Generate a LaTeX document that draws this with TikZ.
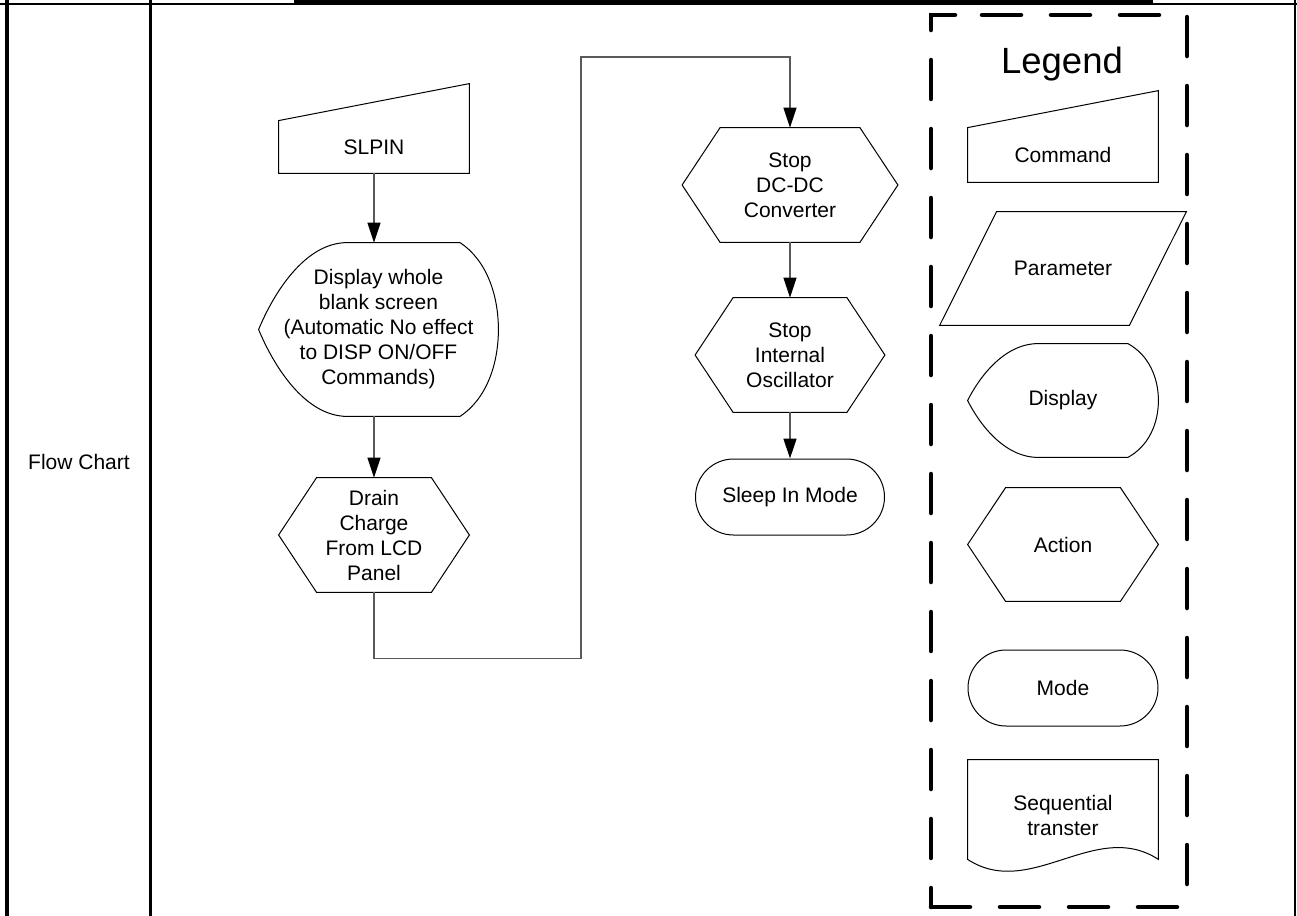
\documentclass[tikz,border=0pt]{standalone}
\usepackage{fontspec}
\setmainfont{Liberation Sans}
\usetikzlibrary{arrows.meta,calc}

\begin{document}
\begin{tikzpicture}[x=0.5pt,y=-0.5pt,
  font=\fontsize{10.5}{12.5}\selectfont,
  lbl/.style={inner sep=0pt,align=center},
  outl/.style={line width=0.5pt},
  arr/.style={draw=black!65,line width=0.7pt,-{Triangle[length=10pt,width=6.5pt,color=black]}},
  legbox/.style={line width=2.25pt,line cap=round,dash pattern=on 19.5pt off 15pt}]
\useasboundingbox (0,0) rectangle (1297,916);
% table frame
\draw[line width=2pt] (7,0)--(7,916);
\draw[line width=1.5pt] (150.5,0)--(150.5,916);
\draw[line width=1.25pt] (1295,0)--(1295,916);
\draw[line width=1pt] (0,3.7)--(1297,3.7);
\fill (294,0) rectangle (1153,4.7);
\node[lbl] (flowlbl) at (79,462) {Flow Chart};
% flow chart
\node[lbl,minimum width=95pt,minimum height=26pt] (slpin) at (374,147) {SLPIN};
\node[lbl,minimum width=119.5pt,minimum height=86.5pt] (disp) at (378.5,329.5) {Display whole\\blank screen\\(Automatic No effect\\to DISP ON/OFF\\Commands)};
\node[lbl,minimum width=95pt,minimum height=57pt] (drain) at (374,535) {Drain\\Charge\\From LCD\\Panel};
\node[lbl,minimum width=107.5pt,minimum height=57pt] (stopdc) at (790,185) {Stop\\DC-DC\\Converter};
\node[lbl,minimum width=94.5pt,minimum height=57pt] (stoposc) at (790,355) {Stop\\Internal\\Oscillator};
\node[lbl,draw,outl,rounded corners=19pt,minimum width=94.5pt,minimum height=38pt] (sleep) at (790,497) {Sleep In Mode};
% legend
\node[lbl,anchor=base,font=\fontsize{18.25}{22}\selectfont] (legtitle) at (1062,73) {Legend};
\node[lbl,minimum width=95pt,minimum height=27pt] (cmd) at (1063,155) {Command};
\node[lbl,minimum width=123pt,minimum height=56.5pt] (param) at (1063,268.5) {Parameter};
\node[lbl,minimum width=95pt,minimum height=56.5pt] (legdisp) at (1063,400.5) {Display};
\node[lbl,minimum width=95pt,minimum height=56.5pt] (act) at (1063,544.5) {Action};
\node[lbl,draw,outl,rounded corners=19pt,minimum width=95pt,minimum height=38pt] (mode) at (1063,688) {Mode};
\node[lbl,minimum width=95pt,minimum height=55pt] (seq) at (1063,815) {Sequential\\transter};
% outlines
\foreach \s in {slpin,cmd}
  \draw[outl] (\s.south west)--(\s.south east)--([yshift=18.5pt]\s.north east)--(\s.north west)--cycle;
\foreach \s in {drain,stopdc,stoposc,act}
  \draw[outl] (\s.west)--([xshift=19pt]\s.north west)--([xshift=-19pt]\s.north east)--(\s.east)
    --([xshift=-19pt]\s.south east)--([xshift=19pt]\s.south west)--cycle;
\draw[outl] (param.south west)--([xshift=-28.5pt]param.south east)--(param.north east)--([xshift=28.5pt]param.north west)--cycle;
\foreach \s in {disp,legdisp}
  \draw[outl] let \p1=(\s.north west), \p2=(\s.south east), \n1={\x2-\x1}, \n2={\y1-\y2} in
    ({\x1+0.37*\n1},\y1) -- ({\x1+0.84*\n1},\y1)
    .. controls ({\x1+0.95*\n1},{\y1-0.1*\n2}) and (\x2,{\y1-0.3*\n2}) .. (\x2,{0.5*(\y1+\y2)})
    .. controls (\x2,{\y2+0.3*\n2}) and ({\x1+0.95*\n1},{\y2+0.1*\n2}) .. ({\x1+0.84*\n1},\y2)
    -- ({\x1+0.37*\n1},\y2)
    .. controls ({\x1+0.19*\n1},\y2) and ({\x1+0.06*\n1},{\y2+0.3*\n2}) .. (\x1,{0.5*(\y1+\y2)})
    .. controls ({\x1+0.06*\n1},{\y1-0.3*\n2}) and ({\x1+0.19*\n1},\y1) .. ({\x1+0.37*\n1},\y1) -- cycle;
\draw[outl] ([yshift=5.5pt]seq.south west)--(seq.north west)--(seq.north east)--([yshift=5.5pt]seq.south east)
  .. controls ([xshift=-31.5pt,yshift=26pt]seq.south east) and ([xshift=31.5pt,yshift=-15pt]seq.south west) .. ([yshift=5.5pt]seq.south west)--cycle;
% connectors
\coordinate (jog) at (581,57);
\draw[arr] (slpin.south)--(slpin.south |- disp.north);
\draw[arr] (drain.north |- disp.south)--(drain.north);
\draw[arr] (drain.south)--++(0,66) -| (jog) -| (stopdc.north);
\draw[arr] (stopdc)--(stoposc);
\draw[arr] (stoposc)--(sleep);
% legend box
\draw[legbox] (955,15)--(931,15)--(931,907);
\draw[legbox] (1177,907)--(931,907);
\draw[legbox] (982,15)--(1187,15)--(1187,907);
\end{tikzpicture}
\end{document}
